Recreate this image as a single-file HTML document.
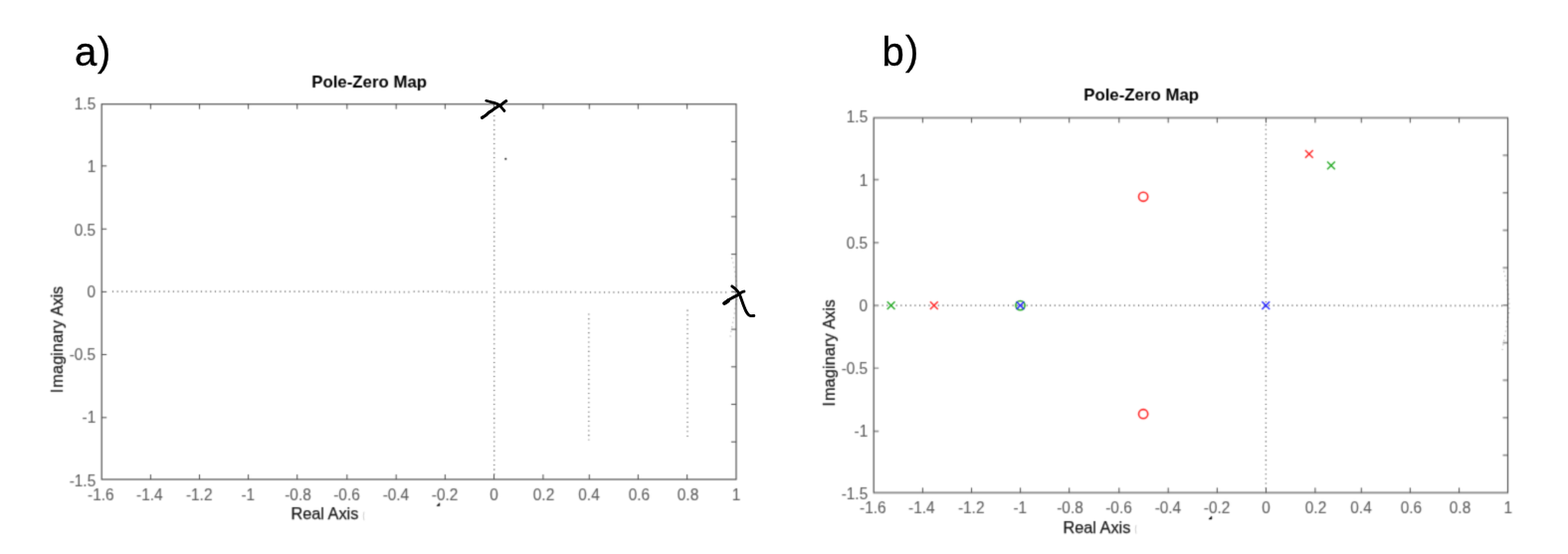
<!DOCTYPE html>
<html><head><meta charset="utf-8"><title>Pole-Zero Maps</title>
<style>
html,body{margin:0;padding:0;background:#fff;}
body{width:1576px;height:557px;overflow:hidden;font-family:"Liberation Sans",sans-serif;}
svg{display:block;font-family:"Liberation Sans",sans-serif;}
</style></head><body>
<svg width="1576" height="557" viewBox="0 0 1576 557">
<rect width="1576" height="557" fill="#fff"/>
<defs><filter id="soft" filterUnits="userSpaceOnUse" x="0" y="0" width="1576" height="557" color-interpolation-filters="sRGB"><feConvolveMatrix order="5" kernelMatrix="0.00001 0.00042 0.00170 0.00042 0.00001 0.00042 0.02740 0.10988 0.02740 0.00042 0.00170 0.10988 0.44065 0.10988 0.00170 0.00042 0.02740 0.10988 0.02740 0.00042 0.00001 0.00042 0.00170 0.00042 0.00001" divisor="1" edgeMode="none" preserveAlpha="false"/></filter></defs>
<g id="all" filter="url(#soft)">
<rect x="102.2" y="104.7" width="637.75" height="377.3" fill="none" stroke="#454545" stroke-width="1.15"/>
<path d="M151.4 482.0v-5 M151.4 104.7v5 M200.5 482.0v-5 M200.5 104.7v5 M249.6 482.0v-5 M249.6 104.7v5 M298.7 482.0v-5 M298.7 104.7v5 M348.8 482.0v-5 M348.8 104.7v5 M398.2 482.0v-5 M398.2 104.7v5 M447.4 482.0v-5 M447.4 104.7v5 M496.5 482.0v-5 M496.5 104.7v5 M545.9 482.0v-5 M545.9 104.7v5 M592.3 482.0v-5 M592.3 104.7v5 M641.4 482.0v-5 M641.4 104.7v5 M690.6 482.0v-5 M690.6 104.7v5 M102.2 166.84h5 M102.2 230.26h5 M102.2 293.4h5 M102.2 356.5h5 M102.2 419.84h5 M739.95 142.43h-5 M739.95 180.16h-5 M739.95 217.89h-5 M739.95 255.62h-5 M739.95 293.35h-5 M739.95 331.08h-5 M739.95 368.81h-5 M739.95 406.54h-5 M739.95 444.27h-5 " stroke="#454545" stroke-width="1.0" fill="none"/>
<text transform="translate(88.12 502.70) scale(0.94 1)" font-size="16.4" fill="#5e5e5e" stroke="#5e5e5e" stroke-width="0.1">-</text><text transform="translate(93.25 502.70) scale(0.94 1)" font-size="16.4" fill="#5e5e5e" stroke="#5e5e5e" stroke-width="0.1">1</text><text transform="translate(101.82 502.70) scale(0.94 1)" font-size="16.4" fill="#5e5e5e" stroke="#5e5e5e" stroke-width="0.1">.</text><text transform="translate(106.11 502.70) scale(0.94 1)" font-size="16.4" fill="#5e5e5e" stroke="#5e5e5e" stroke-width="0.1">6</text>
<text transform="translate(137.12 502.70) scale(0.94 1)" font-size="16.4" fill="#5e5e5e" stroke="#5e5e5e" stroke-width="0.1">-</text><text transform="translate(142.25 502.70) scale(0.94 1)" font-size="16.4" fill="#5e5e5e" stroke="#5e5e5e" stroke-width="0.1">1</text><text transform="translate(150.82 502.70) scale(0.94 1)" font-size="16.4" fill="#5e5e5e" stroke="#5e5e5e" stroke-width="0.1">.</text><text transform="translate(155.11 502.70) scale(0.94 1)" font-size="16.4" fill="#5e5e5e" stroke="#5e5e5e" stroke-width="0.1">4</text>
<text transform="translate(186.92 502.70) scale(0.94 1)" font-size="16.4" fill="#5e5e5e" stroke="#5e5e5e" stroke-width="0.1">-</text><text transform="translate(192.05 502.70) scale(0.94 1)" font-size="16.4" fill="#5e5e5e" stroke="#5e5e5e" stroke-width="0.1">1</text><text transform="translate(200.62 502.70) scale(0.94 1)" font-size="16.4" fill="#5e5e5e" stroke="#5e5e5e" stroke-width="0.1">.</text><text transform="translate(204.91 502.70) scale(0.94 1)" font-size="16.4" fill="#5e5e5e" stroke="#5e5e5e" stroke-width="0.1">2</text>
<text transform="translate(242.45 502.70) scale(0.94 1)" font-size="16.4" fill="#5e5e5e" stroke="#5e5e5e" stroke-width="0.1">-</text><text transform="translate(247.58 502.70) scale(0.94 1)" font-size="16.4" fill="#5e5e5e" stroke="#5e5e5e" stroke-width="0.1">1</text>
<text transform="translate(299.50 502.70) scale(0.94 1)" text-anchor="middle" font-size="16.4" fill="#5e5e5e" stroke="#5e5e5e" stroke-width="0.1">-0.8</text>
<text transform="translate(348.50 502.70) scale(0.94 1)" text-anchor="middle" font-size="16.4" fill="#5e5e5e" stroke="#5e5e5e" stroke-width="0.1">-0.6</text>
<text transform="translate(397.90 502.70) scale(0.94 1)" text-anchor="middle" font-size="16.4" fill="#5e5e5e" stroke="#5e5e5e" stroke-width="0.1">-0.4</text>
<text transform="translate(447.10 502.70) scale(0.94 1)" text-anchor="middle" font-size="16.4" fill="#5e5e5e" stroke="#5e5e5e" stroke-width="0.1">-0.2</text>
<text transform="translate(496.60 502.70) scale(0.94 1)" text-anchor="middle" font-size="16.4" fill="#5e5e5e" stroke="#5e5e5e" stroke-width="0.1">0</text>
<text transform="translate(546.50 502.70) scale(0.94 1)" text-anchor="middle" font-size="16.4" fill="#5e5e5e" stroke="#5e5e5e" stroke-width="0.1">0.2</text>
<text transform="translate(592.00 502.70) scale(0.94 1)" text-anchor="middle" font-size="16.4" fill="#5e5e5e" stroke="#5e5e5e" stroke-width="0.1">0.4</text>
<text transform="translate(642.40 502.70) scale(0.94 1)" text-anchor="middle" font-size="16.4" fill="#5e5e5e" stroke="#5e5e5e" stroke-width="0.1">0.6</text>
<text transform="translate(691.50 502.70) scale(0.94 1)" text-anchor="middle" font-size="16.4" fill="#5e5e5e" stroke="#5e5e5e" stroke-width="0.1">0.8</text>
<text transform="translate(735.86 502.70) scale(0.94 1)" font-size="16.4" fill="#5e5e5e" stroke="#5e5e5e" stroke-width="0.1">1</text>
<text transform="translate(74.77 110.07) scale(0.94 1)" font-size="16.4" fill="#5e5e5e" stroke="#5e5e5e" stroke-width="0.1">1</text><text transform="translate(83.34 110.07) scale(0.94 1)" font-size="16.4" fill="#5e5e5e" stroke="#5e5e5e" stroke-width="0.1">.</text><text transform="translate(87.63 110.07) scale(0.94 1)" font-size="16.4" fill="#5e5e5e" stroke="#5e5e5e" stroke-width="0.1">5</text>
<text transform="translate(87.63 173.37) scale(0.94 1)" font-size="16.4" fill="#5e5e5e" stroke="#5e5e5e" stroke-width="0.1">1</text>
<text transform="translate(96.20 236.87) scale(0.94 1)" text-anchor="end" font-size="16.4" fill="#5e5e5e" stroke="#5e5e5e" stroke-width="0.1">0.5</text>
<text transform="translate(96.20 298.87) scale(0.94 1)" text-anchor="end" font-size="16.4" fill="#5e5e5e" stroke="#5e5e5e" stroke-width="0.1">0</text>
<text transform="translate(96.20 362.17) scale(0.94 1)" text-anchor="end" font-size="16.4" fill="#5e5e5e" stroke="#5e5e5e" stroke-width="0.1">-0.5</text>
<text transform="translate(82.50 425.27) scale(0.94 1)" font-size="16.4" fill="#5e5e5e" stroke="#5e5e5e" stroke-width="0.1">-</text><text transform="translate(87.63 425.27) scale(0.94 1)" font-size="16.4" fill="#5e5e5e" stroke="#5e5e5e" stroke-width="0.1">1</text>
<text transform="translate(69.64 488.67) scale(0.94 1)" font-size="16.4" fill="#5e5e5e" stroke="#5e5e5e" stroke-width="0.1">-</text><text transform="translate(74.77 488.67) scale(0.94 1)" font-size="16.4" fill="#5e5e5e" stroke="#5e5e5e" stroke-width="0.1">1</text><text transform="translate(83.34 488.67) scale(0.94 1)" font-size="16.4" fill="#5e5e5e" stroke="#5e5e5e" stroke-width="0.1">.</text><text transform="translate(87.63 488.67) scale(0.94 1)" font-size="16.4" fill="#5e5e5e" stroke="#5e5e5e" stroke-width="0.1">5</text>
<text transform="translate(292.50 522.30) scale(1.0 1)" text-anchor="start" font-size="16.3" fill="#1a1a1a" stroke="#1a1a1a" stroke-width="0.25">Real Axis</text>
<text transform="translate(62.7 395.2) rotate(-90) scale(0.965 1)" font-size="16.8" letter-spacing="0.19" fill="#1a1a1a" stroke="#1a1a1a" stroke-width="0.25">I<tspan dx="0.8">maginary</tspan></text>
<text transform="translate(62.7 317.5) rotate(-90) scale(0.933 1)" font-size="16.8" fill="#1a1a1a" stroke="#1a1a1a" stroke-width="0.25">Axis</text>
<text transform="translate(371.10 87.60) scale(1.058 1)" text-anchor="middle" font-size="15.9" fill="#000" font-weight="bold">Pole-Zero Map</text>
<path d="M365.9 514.6q-1.3 4.3 0 8.6" stroke="#c8c8c8" stroke-width="0.9" fill="none"/>
<path d="M438.9 508.6l3.0-2.9v2.9z" fill="#000" stroke="#000" stroke-width="0.5"/>
<path d="M112.98 293.15L342.7 293.15" stroke="#707070" stroke-width="1.8" stroke-dasharray="1.05 3.630" fill="none"/>
<path d="M344.88 293.6L412.0 293.6" stroke="#707070" stroke-width="1.8" stroke-dasharray="1.05 3.630" fill="none"/>
<path d="M415.68 293.15L449.2 293.15" stroke="#707070" stroke-width="1.8" stroke-dasharray="1.05 3.630" fill="none"/>
<path d="M451.18 293.6L490.2 293.6" stroke="#707070" stroke-width="1.8" stroke-dasharray="1.05 3.630" fill="none"/>
<path d="M502.8 293.6L579.5 293.6" stroke="#707070" stroke-width="1.8" stroke-dasharray="1.05 3.630" fill="none"/>
<path d="M583.55 293.85L731.5 293.85" stroke="#787878" stroke-width="1.8" stroke-dasharray="1.05 3.644" fill="none"/>
<path d="M496.7 115.9L496.7 481.5" stroke="#5c5c5c" stroke-width="1.35" stroke-dasharray="1.05 3.630" fill="none"/>
<path d="M591.8 315.4L591.8 442.5" stroke="#646464" stroke-width="1.35" stroke-dasharray="1.05 3.630" fill="none"/>
<path d="M691.0 311.6L691.0 439.5" stroke="#646464" stroke-width="1.35" stroke-dasharray="1.05 3.630" fill="none"/>
<path d="M734.0 338.6 L734.8 334.0 L735.5 329.5 L736.4 324.8 L737.3 320.2 L738.2 315.5 L738.6 310.6 L740.5 302.2 L741.1 293.6 L740.7 288.6 L740.2 283.2 L738.9 274.6 L738.2 269.9 L737.1 265.3 L735.9 261.0 L735.0 256.6" stroke="#000" stroke-opacity="0.27" stroke-width="1.3" stroke-dasharray="1.2 3.48" fill="none"/>
<circle cx="508.3" cy="159.7" r="1.05" fill="#1a1a1a"/>
<g transform="translate(776.0 13.35)">
<rect x="102.2" y="105.1" width="637.3" height="376.9" fill="none" stroke="#454545" stroke-width="1.15"/>
<path d="M151.4 482.0v-5 M151.4 105.1v5 M200.5 482.0v-5 M200.5 105.1v5 M249.6 482.0v-5 M249.6 105.1v5 M298.7 482.0v-5 M298.7 105.1v5 M348.8 482.0v-5 M348.8 105.1v5 M398.2 482.0v-5 M398.2 105.1v5 M447.4 482.0v-5 M447.4 105.1v5 M496.5 482.0v-5 M496.5 105.1v5 M545.9 482.0v-5 M545.9 105.1v5 M592.3 482.0v-5 M592.3 105.1v5 M641.4 482.0v-5 M641.4 105.1v5 M690.6 482.0v-5 M690.6 105.1v5 M102.2 167.24h5 M102.2 230.66h5 M102.2 293.79999999999995h5 M102.2 357.0h5 M102.2 420.23999999999995h5 M739.5 142.79h-5 M739.5 180.48h-5 M739.5 218.17h-5 M739.5 255.86h-5 M739.5 293.55h-5 M739.5 331.24h-5 M739.5 368.93h-5 M739.5 406.62h-5 M739.5 444.31h-5 " stroke="#454545" stroke-width="1.0" fill="none"/>
<text transform="translate(88.12 502.70) scale(0.94 1)" font-size="16.4" fill="#5e5e5e" stroke="#5e5e5e" stroke-width="0.1">-</text><text transform="translate(93.25 502.70) scale(0.94 1)" font-size="16.4" fill="#5e5e5e" stroke="#5e5e5e" stroke-width="0.1">1</text><text transform="translate(101.82 502.70) scale(0.94 1)" font-size="16.4" fill="#5e5e5e" stroke="#5e5e5e" stroke-width="0.1">.</text><text transform="translate(106.11 502.70) scale(0.94 1)" font-size="16.4" fill="#5e5e5e" stroke="#5e5e5e" stroke-width="0.1">6</text>
<text transform="translate(137.12 502.70) scale(0.94 1)" font-size="16.4" fill="#5e5e5e" stroke="#5e5e5e" stroke-width="0.1">-</text><text transform="translate(142.25 502.70) scale(0.94 1)" font-size="16.4" fill="#5e5e5e" stroke="#5e5e5e" stroke-width="0.1">1</text><text transform="translate(150.82 502.70) scale(0.94 1)" font-size="16.4" fill="#5e5e5e" stroke="#5e5e5e" stroke-width="0.1">.</text><text transform="translate(155.11 502.70) scale(0.94 1)" font-size="16.4" fill="#5e5e5e" stroke="#5e5e5e" stroke-width="0.1">4</text>
<text transform="translate(186.92 502.70) scale(0.94 1)" font-size="16.4" fill="#5e5e5e" stroke="#5e5e5e" stroke-width="0.1">-</text><text transform="translate(192.05 502.70) scale(0.94 1)" font-size="16.4" fill="#5e5e5e" stroke="#5e5e5e" stroke-width="0.1">1</text><text transform="translate(200.62 502.70) scale(0.94 1)" font-size="16.4" fill="#5e5e5e" stroke="#5e5e5e" stroke-width="0.1">.</text><text transform="translate(204.91 502.70) scale(0.94 1)" font-size="16.4" fill="#5e5e5e" stroke="#5e5e5e" stroke-width="0.1">2</text>
<text transform="translate(242.45 502.70) scale(0.94 1)" font-size="16.4" fill="#5e5e5e" stroke="#5e5e5e" stroke-width="0.1">-</text><text transform="translate(247.58 502.70) scale(0.94 1)" font-size="16.4" fill="#5e5e5e" stroke="#5e5e5e" stroke-width="0.1">1</text>
<text transform="translate(299.50 502.70) scale(0.94 1)" text-anchor="middle" font-size="16.4" fill="#5e5e5e" stroke="#5e5e5e" stroke-width="0.1">-0.8</text>
<text transform="translate(348.50 502.70) scale(0.94 1)" text-anchor="middle" font-size="16.4" fill="#5e5e5e" stroke="#5e5e5e" stroke-width="0.1">-0.6</text>
<text transform="translate(397.90 502.70) scale(0.94 1)" text-anchor="middle" font-size="16.4" fill="#5e5e5e" stroke="#5e5e5e" stroke-width="0.1">-0.4</text>
<text transform="translate(447.10 502.70) scale(0.94 1)" text-anchor="middle" font-size="16.4" fill="#5e5e5e" stroke="#5e5e5e" stroke-width="0.1">-0.2</text>
<text transform="translate(496.60 502.70) scale(0.94 1)" text-anchor="middle" font-size="16.4" fill="#5e5e5e" stroke="#5e5e5e" stroke-width="0.1">0</text>
<text transform="translate(546.50 502.70) scale(0.94 1)" text-anchor="middle" font-size="16.4" fill="#5e5e5e" stroke="#5e5e5e" stroke-width="0.1">0.2</text>
<text transform="translate(592.00 502.70) scale(0.94 1)" text-anchor="middle" font-size="16.4" fill="#5e5e5e" stroke="#5e5e5e" stroke-width="0.1">0.4</text>
<text transform="translate(642.40 502.70) scale(0.94 1)" text-anchor="middle" font-size="16.4" fill="#5e5e5e" stroke="#5e5e5e" stroke-width="0.1">0.6</text>
<text transform="translate(691.50 502.70) scale(0.94 1)" text-anchor="middle" font-size="16.4" fill="#5e5e5e" stroke="#5e5e5e" stroke-width="0.1">0.8</text>
<text transform="translate(735.41 502.70) scale(0.94 1)" font-size="16.4" fill="#5e5e5e" stroke="#5e5e5e" stroke-width="0.1">1</text>
<text transform="translate(74.77 110.07) scale(0.94 1)" font-size="16.4" fill="#5e5e5e" stroke="#5e5e5e" stroke-width="0.1">1</text><text transform="translate(83.34 110.07) scale(0.94 1)" font-size="16.4" fill="#5e5e5e" stroke="#5e5e5e" stroke-width="0.1">.</text><text transform="translate(87.63 110.07) scale(0.94 1)" font-size="16.4" fill="#5e5e5e" stroke="#5e5e5e" stroke-width="0.1">5</text>
<text transform="translate(87.63 173.37) scale(0.94 1)" font-size="16.4" fill="#5e5e5e" stroke="#5e5e5e" stroke-width="0.1">1</text>
<text transform="translate(96.20 236.87) scale(0.94 1)" text-anchor="end" font-size="16.4" fill="#5e5e5e" stroke="#5e5e5e" stroke-width="0.1">0.5</text>
<text transform="translate(96.20 299.27) scale(0.94 1)" text-anchor="end" font-size="16.4" fill="#5e5e5e" stroke="#5e5e5e" stroke-width="0.1">0</text>
<text transform="translate(96.20 362.27) scale(0.94 1)" text-anchor="end" font-size="16.4" fill="#5e5e5e" stroke="#5e5e5e" stroke-width="0.1">-0.5</text>
<text transform="translate(82.50 425.37) scale(0.94 1)" font-size="16.4" fill="#5e5e5e" stroke="#5e5e5e" stroke-width="0.1">-</text><text transform="translate(87.63 425.37) scale(0.94 1)" font-size="16.4" fill="#5e5e5e" stroke="#5e5e5e" stroke-width="0.1">1</text>
<text transform="translate(69.64 488.67) scale(0.94 1)" font-size="16.4" fill="#5e5e5e" stroke="#5e5e5e" stroke-width="0.1">-</text><text transform="translate(74.77 488.67) scale(0.94 1)" font-size="16.4" fill="#5e5e5e" stroke="#5e5e5e" stroke-width="0.1">1</text><text transform="translate(83.34 488.67) scale(0.94 1)" font-size="16.4" fill="#5e5e5e" stroke="#5e5e5e" stroke-width="0.1">.</text><text transform="translate(87.63 488.67) scale(0.94 1)" font-size="16.4" fill="#5e5e5e" stroke="#5e5e5e" stroke-width="0.1">5</text>
<text transform="translate(292.50 522.30) scale(1.0 1)" text-anchor="start" font-size="16.3" fill="#1a1a1a" stroke="#1a1a1a" stroke-width="0.25">Real Axis</text>
<text transform="translate(62.7 395.2) rotate(-90) scale(0.965 1)" font-size="16.8" letter-spacing="0.19" fill="#1a1a1a" stroke="#1a1a1a" stroke-width="0.25">I<tspan dx="0.8">maginary</tspan></text>
<text transform="translate(62.7 317.5) rotate(-90) scale(0.933 1)" font-size="16.8" fill="#1a1a1a" stroke="#1a1a1a" stroke-width="0.25">Axis</text>
<text transform="translate(371.10 87.60) scale(1.058 1)" text-anchor="middle" font-size="15.9" fill="#000" font-weight="bold">Pole-Zero Map</text>
<path d="M365.9 514.6q-1.3 4.3 0 8.6" stroke="#c8c8c8" stroke-width="0.9" fill="none"/>
<path d="M438.9 508.6l3.0-2.9v2.9z" fill="#000" stroke="#000" stroke-width="0.5"/>
<path d="M110.6 293.7L578.5 293.7" stroke="#707070" stroke-width="1.8" stroke-dasharray="1.05 3.630" fill="none"/>
<path d="M578.6 293.95L737.5 293.95" stroke="#707070" stroke-width="1.8" stroke-dasharray="1.05 3.630" fill="none"/>
<path d="M496.4 107.1L496.4 481.5" stroke="#5c5c5c" stroke-width="1.35" stroke-dasharray="1.05 3.630" fill="none"/>
</g>
<path d="M1510.0 352.0 L1510.8 347.4 L1511.5 342.9 L1512.4 338.2 L1513.3 333.6 L1514.2 328.9 L1514.6 324.0 L1516.5 315.6 L1517.1 307.0 L1516.7 302.0 L1516.2 296.6 L1514.9 288.0 L1514.2 283.3 L1513.1 278.7 L1511.9 274.4 L1511.0 270.0" stroke="#000" stroke-opacity="0.27" stroke-width="1.3" stroke-dasharray="1.2 3.48" fill="none"/>
<path d="M891.7 303.20000000000005L899.5 311.0M891.7 311.0L899.5 303.20000000000005" stroke="#22a822" stroke-width="1.4" fill="none"/>
<path d="M934.9 303.20000000000005L942.6999999999999 311.0M934.9 311.0L942.6999999999999 303.20000000000005" stroke="#ff2222" stroke-width="1.4" fill="none"/>
<circle cx="1025.5" cy="307.1" r="4.6" stroke="#22a822" stroke-width="1.6" fill="none"/>
<path d="M1021.6 303.20000000000005L1029.4 311.0M1021.6 311.0L1029.4 303.20000000000005" stroke="#2626ff" stroke-width="1.4" fill="none"/>
<path d="M1268.3999999999999 303.20000000000005L1276.2 311.0M1268.3999999999999 311.0L1276.2 303.20000000000005" stroke="#2626ff" stroke-width="1.4" fill="none"/>
<circle cx="1149.1" cy="197.8" r="4.6" stroke="#ff2222" stroke-width="1.6" fill="none"/>
<circle cx="1149.1" cy="416.2" r="4.6" stroke="#ff2222" stroke-width="1.6" fill="none"/>
<path d="M1311.8999999999999 150.9L1319.7 158.70000000000002M1311.8999999999999 158.70000000000002L1319.7 150.9" stroke="#ff2222" stroke-width="1.4" fill="none"/>
<path d="M1334.0 162.5L1341.8000000000002 170.3M1334.0 170.3L1341.8000000000002 162.5" stroke="#22a822" stroke-width="1.4" fill="none"/>
</g>
<text x="75" y="65.5" font-size="40" fill="#000" stroke="#000" stroke-width="0.35">a</text>
<text x="98" y="65.5" font-size="40" fill="#000" stroke="#000" stroke-width="0.3">)</text>
<text x="886.5" y="65.5" font-size="40" fill="#000" stroke="#000" stroke-width="0.35">b</text>
<text x="910" y="65.4" font-size="40" fill="#000" stroke="#000" stroke-width="0.3">)</text>
<path d="M484.4 118.4C485.6 117.8 486.8 117.1 487.9 116.2C489.2 115.2 490.3 114.0 491.5 113.0C492.4 112.3 493.5 111.9 494.4 111.2C495.4 110.5 496.3 109.7 497.3 109.0C498.2 108.3 499.2 107.8 500.2 107.2C501.4 106.6 502.6 106.1 503.7 105.4C504.7 104.7 505.6 103.7 506.6 102.9C507.3 102.4 508.1 102.0 508.8 101.5" stroke="#000" stroke-width="3.0" stroke-linecap="round" stroke-linejoin="round" fill="none"/>
<path d="M488.7 101.3C490.4 101.7 492.0 102.1 493.7 102.6C495.4 103.0 497.1 103.4 498.7 104.0C500.0 104.6 501.2 105.3 502.3 106.2C503.4 107.2 504.3 108.3 505.2 109.4L507.0 111.5" stroke="#000" stroke-width="2.7" stroke-linecap="round" stroke-linejoin="round" fill="none"/>
<path d="M735.80 287.90C736.38 288.33 738.25 289.56 739.26 290.49C740.27 291.42 741.12 292.50 741.84 293.50C742.56 294.50 742.99 295.23 743.56 296.52C744.13 297.81 744.63 299.47 745.28 301.26C745.93 303.05 746.65 305.27 747.44 307.28C748.23 309.29 749.16 311.72 750.02 313.30C750.88 314.88 751.81 316.04 752.60 316.76C753.39 317.48 753.90 317.50 754.76 317.62C755.62 317.74 757.27 317.48 757.77 317.45" stroke="#000" stroke-width="2.95" stroke-linecap="round" stroke-linejoin="round" fill="none"/>
<path d="M747.87 293.07C747.44 293.21 746.28 293.36 745.28 293.93C744.27 294.50 743.13 295.73 741.84 296.52C740.55 297.31 738.82 298.00 737.53 298.67C736.24 299.35 735.02 300.08 734.09 300.57C733.16 301.06 732.51 301.10 731.93 301.60C731.35 302.11 731.32 303.01 730.60 303.60C729.88 304.19 728.12 304.88 727.63 305.13" stroke="#000" stroke-width="2.95" stroke-linecap="round" stroke-linejoin="round" fill="none"/>
<path d="M732.0 302.4L728.6 304.7" stroke="#000" stroke-width="3.9" stroke-linecap="round" fill="none"/>
<circle cx="485.0" cy="118.0" r="1.55" fill="#000"/>
</svg>
</body></html>
